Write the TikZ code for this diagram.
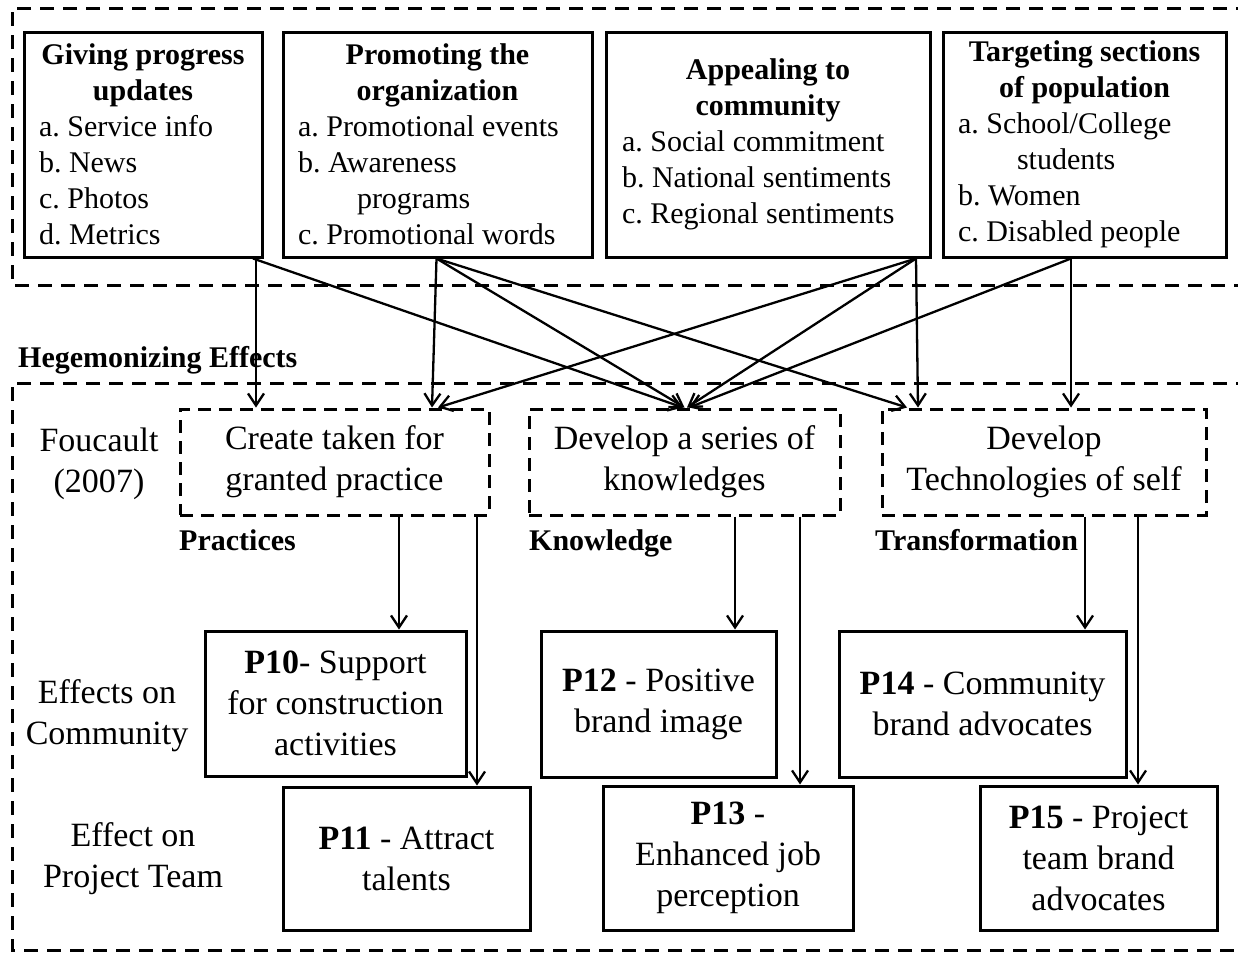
\documentclass[tikz,border=0pt]{standalone}
\usepackage{fontspec}
\setmainfont{Liberation Serif}
\usetikzlibrary{arrows.meta}
\newcommand\topf{\fontsize{30pt}{36pt}\selectfont\frenchspacing}
\newcommand\midf{\fontsize{34pt}{41pt}\selectfont\frenchspacing}
\newcommand\labf{\fontsize{30pt}{34pt}\selectfont\bfseries}
\newcommand\hd[2]{\makebox[#1][c]{\bfseries #2}}
\begin{document}
\begin{tikzpicture}[x=1pt,y=-1pt,
  topbox/.style={draw, line width=3pt, minimum height=225pt, inner xsep=15pt, inner ysep=0pt,
    align=left, font=\topf},
  midbox/.style={draw, line width=3pt, dash pattern=on 13pt off 8pt, align=center, font=\midf,
    minimum height=106pt, inner sep=0pt},
  pbox/.style={draw, line width=3pt, align=center, font=\midf, inner sep=0pt},
  outerbox/.style={line width=3pt, dash pattern=on 14pt off 9pt},
  arr/.style={line width=2.3pt, -{Straight Barb[length=12pt,width=16pt,line width=2.3pt]}},
  lab/.style={font=\labf, inner sep=0pt, anchor=base west},
  side/.style={font=\midf, align=center, inner sep=0pt}]
\useasboundingbox (0,0) rectangle (1238,953);
\fill[white] (0,0) rectangle (1238,953);
% outer dashed regions
\draw[outerbox] (1250,8) -- (12,8) -- (12,285) -- (1250,285);
\draw[outerbox] (1250,383) -- (12,383) -- (12,950) -- (1250,950);
% top boxes
\node[topbox, minimum width=238pt] (g1) at (143,144.5)
  {\hd{208pt}{Giving progress}\\\hd{208pt}{updates}\\a. Service info\\b. News\\c. Photos\\d. Metrics};
\node[topbox, minimum width=309pt] (g2) at (437.5,144.5)
  {\hd{279pt}{Promoting the}\\\hd{279pt}{organization}\\a. Promotional events\\b. Awareness\\\hspace*{59pt}programs\\c. Promotional words};
\node[topbox, minimum width=324pt, inner xsep=16pt] (g3) at (768,144.5)
  {\hd{292pt}{Appealing to}\\\hd{292pt}{community}\\a. Social commitment\\b. National sentiments\\c. Regional sentiments};
\node[topbox, minimum width=283pt] (g4) at (1084.5,144.5)
  {\hd{253pt}{Targeting sections}\\\hd{253pt}{of population}\\a. School/College\\\hspace*{59pt}students\\b. Women\\c. Disabled people};
% heading
\node[lab] (heg) at (18,367) {Hegemonizing Effects};
% middle dashed boxes
\node[midbox, minimum width=309pt] (A) at (334.5,462) {Create taken for\\granted practice};
\node[midbox, minimum width=311pt] (B) at (684.5,462) {Develop a series of\\knowledges};
\node[midbox, minimum width=324pt] (C) at (1044,462) {Develop\\Technologies of self};
% labels
\node[lab] (lp) at (179,550) {Practices};
\node[lab] (lk) at (529,550) {Knowledge};
\node[lab] (lt) at (875,550) {Transformation};
\node[side] (fc) at (99,464) {Foucault\\(2007)};
\node[side] (ec) at (107,716) {Effects on\\Community};
\node[side] (ep) at (133,859) {Effect on\\Project Team};
% bottom boxes
\node[pbox, minimum width=261pt, minimum height=145pt] (P10) at (335.5,703.5) {\textbf{P10}- Support\\for construction\\activities};
\node[pbox, minimum width=247pt, minimum height=143pt] (P11) at (406.5,858.5) {\textbf{P11} - Attract\\talents};
\node[pbox, minimum width=235pt, minimum height=146pt] (P12) at (658.5,704) {\textbf{P12} - Positive\\brand image};
\node[pbox, minimum width=250pt, minimum height=144pt] (P13) at (728,858) {\textbf{P13} -\\Enhanced job\\perception};
\node[pbox, minimum width=287pt, minimum height=146pt] (P14) at (982.5,704) {\textbf{P14} - Community\\brand advocates};
\node[pbox, minimum width=237pt, minimum height=144pt] (P15) at (1098.5,858) {\textbf{P15} - Project\\team brand\\advocates};
% top to middle arrows
\draw[arr] ([xshift=113pt]g1.south) -- ([xshift=-78.5pt]A.north);
\draw[arr] ([xshift=110pt]g1.south) -- ([xshift=-1.5pt]B.north);
\draw[arr] ([xshift=-1pt]g2.south) -- ([xshift=97.5pt]A.north);
\draw[arr] ([xshift=-1pt]g2.south) -- (B.north);
\draw[arr] ([xshift=-1pt]g2.south) -- ([xshift=-137pt]C.north);
\draw[arr] ([xshift=148pt]g3.south) -- ([xshift=103.5pt]A.north);
\draw[arr] ([xshift=148pt]g3.south) -- ([xshift=2.5pt]B.north);
\draw[arr] ([xshift=148pt]g3.south) -- ([xshift=-126pt]C.north);
\draw[arr] ([xshift=-13.5pt]g4.south) -- ([xshift=4.5pt]B.north);
\draw[arr] ([xshift=-13.5pt]g4.south) -- ([xshift=27pt]C.north);
% middle to bottom arrows
\coordinate (a1) at ([xshift=64.5pt]A.south);
\coordinate (a2) at ([xshift=142.5pt]A.south);
\coordinate (b1) at ([xshift=50.5pt]B.south);
\coordinate (b2) at ([xshift=115.5pt]B.south);
\coordinate (c1) at ([xshift=41pt]C.south);
\coordinate (c2) at ([xshift=94pt]C.south);
\draw[arr] (a1) -- (a1 |- P10.north);
\draw[arr] (a2) -- (a2 |- P11.north);
\draw[arr] (b1) -- (b1 |- P12.north);
\draw[arr] (b2) -- (b2 |- P13.north);
\draw[arr] (c1) -- (c1 |- P14.north);
\draw[arr] (c2) -- (c2 |- P15.north);
\end{tikzpicture}
\end{document}
